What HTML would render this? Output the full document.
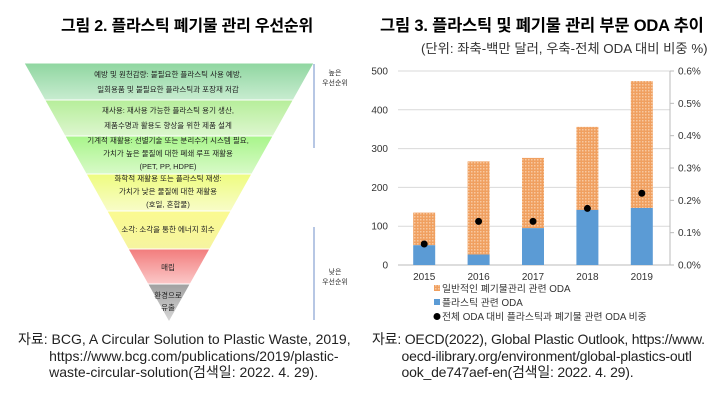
<!DOCTYPE html>
<html><head><meta charset="utf-8">
<style>
body{margin:0;width:728px;height:405px;background:#fff;font-family:"Liberation Sans","Noto Sans CJK KR",sans-serif;position:relative;overflow:hidden}
.t{position:absolute;white-space:nowrap}
.title{font-weight:bold;font-size:16px;top:12px;letter-spacing:-0.2px}
.src{font-size:14px;color:#222;line-height:16.5px}
</style></head><body>
<div class="t title" style="left:61px">그림 2. 플라스틱 폐기물 관리 우선순위</div>
<div class="t title" style="left:380px;font-size:16.5px">그림 3. 플라스틱 및 폐기물 관리 부문 ODA 추이</div>
<div class="t" style="left:421px;top:38px;font-size:13.3px;color:#333">(단위: 좌축-백만 달러, 우축-전체 ODA 대비 비중 %)</div>

<svg width="360" height="330" style="position:absolute;left:0;top:0" font-family="Liberation Sans, Noto Sans CJK KR, sans-serif">
<defs>
<linearGradient id="g1" x1="0" y1="0" x2="0" y2="1"><stop offset="0" stop-color="#8fd6a0"/><stop offset="1" stop-color="#c8ecd0"/></linearGradient>
<linearGradient id="g2" x1="0" y1="0" x2="0" y2="1"><stop offset="0" stop-color="#b6ee9a"/><stop offset="1" stop-color="#ddf6cf"/></linearGradient>
<linearGradient id="g3" x1="0" y1="0" x2="0" y2="1"><stop offset="0" stop-color="#a8f58a"/><stop offset="1" stop-color="#d8fac8"/></linearGradient>
<linearGradient id="g4" x1="0" y1="0" x2="0" y2="1"><stop offset="0" stop-color="#eefc80"/><stop offset="1" stop-color="#f8fcc8"/></linearGradient>
<linearGradient id="g5" x1="0" y1="0" x2="0" y2="1"><stop offset="0" stop-color="#fafa90"/><stop offset="1" stop-color="#f6f4a0"/></linearGradient>
<linearGradient id="g6" x1="0" y1="0" x2="0" y2="1"><stop offset="0" stop-color="#f27c7c"/><stop offset="1" stop-color="#fbc8c8"/></linearGradient>
<linearGradient id="g7" x1="0" y1="0" x2="0" y2="1"><stop offset="0" stop-color="#a0a0a0"/><stop offset="1" stop-color="#d8d8d8"/></linearGradient>
</defs>
<g id="bands"></g>
<g font-size="7.5" fill="#222" text-anchor="middle">
<text x="168" y="77">예방 및 원천감량: 불필요한 플라스틱 사용 예방,</text>
<text x="168" y="92">일회용품 및 불필요한 플라스틱과 포장재 저감</text>
<text x="168" y="113">재사용: 재사용 가능한 플라스틱 용기 생산,</text>
<text x="168" y="128">제품수명과 활용도 향상을 위한 제품 설계</text>
<text x="168" y="143">기계적 재활용: 선별기술 또는 분리수거 시스템 필요,</text>
<text x="168" y="156">가치가 높은 물질에 대한 폐쇄 루프 재활용</text>
<text x="168" y="169">(PET, PP, HDPE)</text>
<text x="168" y="181">화학적 재활용 또는 플라스틱 재생:</text>
<text x="168" y="194">가치가 낮은 물질에 대한 재활용</text>
<text x="168" y="207">(호일, 혼합물)</text>
<text x="168" y="232">소각: 소각을 통한 에너지 회수</text>
<text x="168" y="270">매립</text>
<text x="168" y="298">환경으로</text>
<text x="168" y="310">유출</text>
</g>
<line x1="314" y1="64" x2="314" y2="148" stroke="#6f8fc8" stroke-width="1"/>
<line x1="314" y1="227" x2="314" y2="320" stroke="#6f8fc8" stroke-width="1"/>
<text x="335" y="75" font-size="7" text-anchor="middle" fill="#333">높은</text>
<text x="335" y="85" font-size="7" text-anchor="middle" fill="#333">우선순위</text>
<text x="335" y="274" font-size="7" text-anchor="middle" fill="#333">낮은</text>
<text x="335" y="284" font-size="7" text-anchor="middle" fill="#333">우선순위</text>
</svg>

<svg id="chart" width="728" height="330" style="position:absolute;left:0;top:0" font-family="Liberation Sans, Noto Sans CJK KR, sans-serif">
<defs><pattern id="dots" width="3" height="3" patternUnits="userSpaceOnUse"><rect width="3" height="3" fill="#f0a060"/><rect width="1.5" height="1.5" fill="#f7c8a0"/></pattern></defs>
</svg>

<div class="t src" style="left:18px;top:331px">자료: BCG, A Circular Solution to Plastic Waste, 2019,<br>&nbsp; &nbsp; &nbsp; &nbsp; https://www.bcg.com/publications/2019/plastic-<br>&nbsp; &nbsp; &nbsp; &nbsp; waste-circular-solution(검색일: 2022. 4. 29).</div>
<div class="t src" style="left:372px;top:331px;letter-spacing:-0.2px">자료: OECD(2022), Global Plastic Outlook, https://www.<br>&nbsp; &nbsp; &nbsp; &nbsp; oecd-ilibrary.org/environment/global-plastics-outl<br>&nbsp; &nbsp; &nbsp; &nbsp; ook_de747aef-en(검색일: 2022. 4. 29).</div>

<script>
// pyramid bands
const bandTops=[63,100,136,174,211,249,284];
const bandFills=['g1','g2','g3','g4','g5','g6','g7'];
(function(){
const g=document.getElementById('bands');const ns='http://www.w3.org/2000/svg';
const L=24,R=314,T=63,B=322,C=169;
const xl=y=>L+(C-L)*(y-T)/(B-T), xr=y=>R-(R-C)*(y-T)/(B-T);
bandTops.forEach((t,i)=>{const b=i<6?bandTops[i+1]:B;
const p=document.createElementNS(ns,'polygon');
p.setAttribute('points',`${xl(t)},${t} ${xr(t)},${t} ${xr(b)},${b} ${xl(b)},${b}`);
p.setAttribute('fill',`url(#${bandFills[i]})`);p.setAttribute('stroke','#fff');p.setAttribute('stroke-width','1');


g.appendChild(p);});
})();

// chart data
const years=['2015','2016','2017','2018','2019'];
const totalODA=[135,267,276,356,474];
const plasticODA=[51,27,95,142,147];
const sharePct=[0.065,0.135,0.135,0.175,0.222];
const leftTicks=[0,100,200,300,400,500];
const rightTicks=['0.0%','0.1%','0.2%','0.3%','0.4%','0.5%','0.6%'];

(function(){
const svg=document.getElementById('chart');const ns='http://www.w3.org/2000/svg';
const X0=398,X1=670,Y0=265,Y1=71;
const yL=v=>Y0-(v/500)*(Y0-Y1);
const yR=v=>Y0-(v/0.6)*(Y0-Y1);
const band=(X1-X0)/years.length;
const xC=i=>X0+band*(i+0.5)-1;
const mk=(tag,a,txt)=>{const e=document.createElementNS(ns,tag);for(const k in a)e.setAttribute(k,a[k]);if(txt!=null)e.textContent=txt;svg.appendChild(e);return e;};
leftTicks.forEach(v=>{
const l=mk('line',{x1:X0,x2:X1,y1:yL(v),y2:yL(v),stroke:'#d9d9d9','stroke-width':1});


const t=mk('text',{x:X0-10,y:yL(v)+3.5,'font-size':10,'text-anchor':'end',fill:'#333'},v);


});
rightTicks.forEach((s,i)=>{
const v=i*0.1;
mk('line',{x1:X1,x2:X1+4,y1:yR(v),y2:yR(v),stroke:'#bbb'});
const t=mk('text',{x:X1+8,y:yR(v)+3.5,'font-size':10,fill:'#333'},s);


});
mk('line',{x1:X1,x2:X1,y1:Y1,y2:Y0,stroke:'#bbb'});
mk('line',{x1:X0,x2:X1,y1:Y0,y2:Y0,stroke:'#bbb'});
const w=22;
years.forEach((yr,i)=>{
const o=mk('rect',{x:xC(i)-w/2,y:yL(totalODA[i]),width:w,height:yL(plasticODA[i])-yL(totalODA[i]),fill:'url(#dots)'});


const b=mk('rect',{x:xC(i)-w/2,y:yL(plasticODA[i]),width:w,height:Y0-yL(plasticODA[i]),fill:'#5b9bd5'});


const c=mk('circle',{cx:xC(i),cy:yR(sharePct[i]),r:3.5,fill:'#000'});


const t=mk('text',{x:xC(i),y:Y0+15,'font-size':10,'text-anchor':'middle',fill:'#333'},yr);


});
const lg=[['rect','url(#dots)','일반적인 폐기물관리 관련 ODA',292],['rect','#5b9bd5','플라스틱 관련 ODA',306],['circle','#000','전체 ODA 대비 플라스틱과 폐기물 관련 ODA 비중',320]];
lg.forEach(([k,f,s,y])=>{
if(k==='rect')mk('rect',{x:434,y:y-7,width:6,height:6,fill:f});else mk('circle',{cx:437,cy:y-3.5,r:3.5,fill:f});
const t=mk('text',{x:442,y:y,'font-size':9.8,fill:'#333'},s);


});
})();
</script>
</body></html>
